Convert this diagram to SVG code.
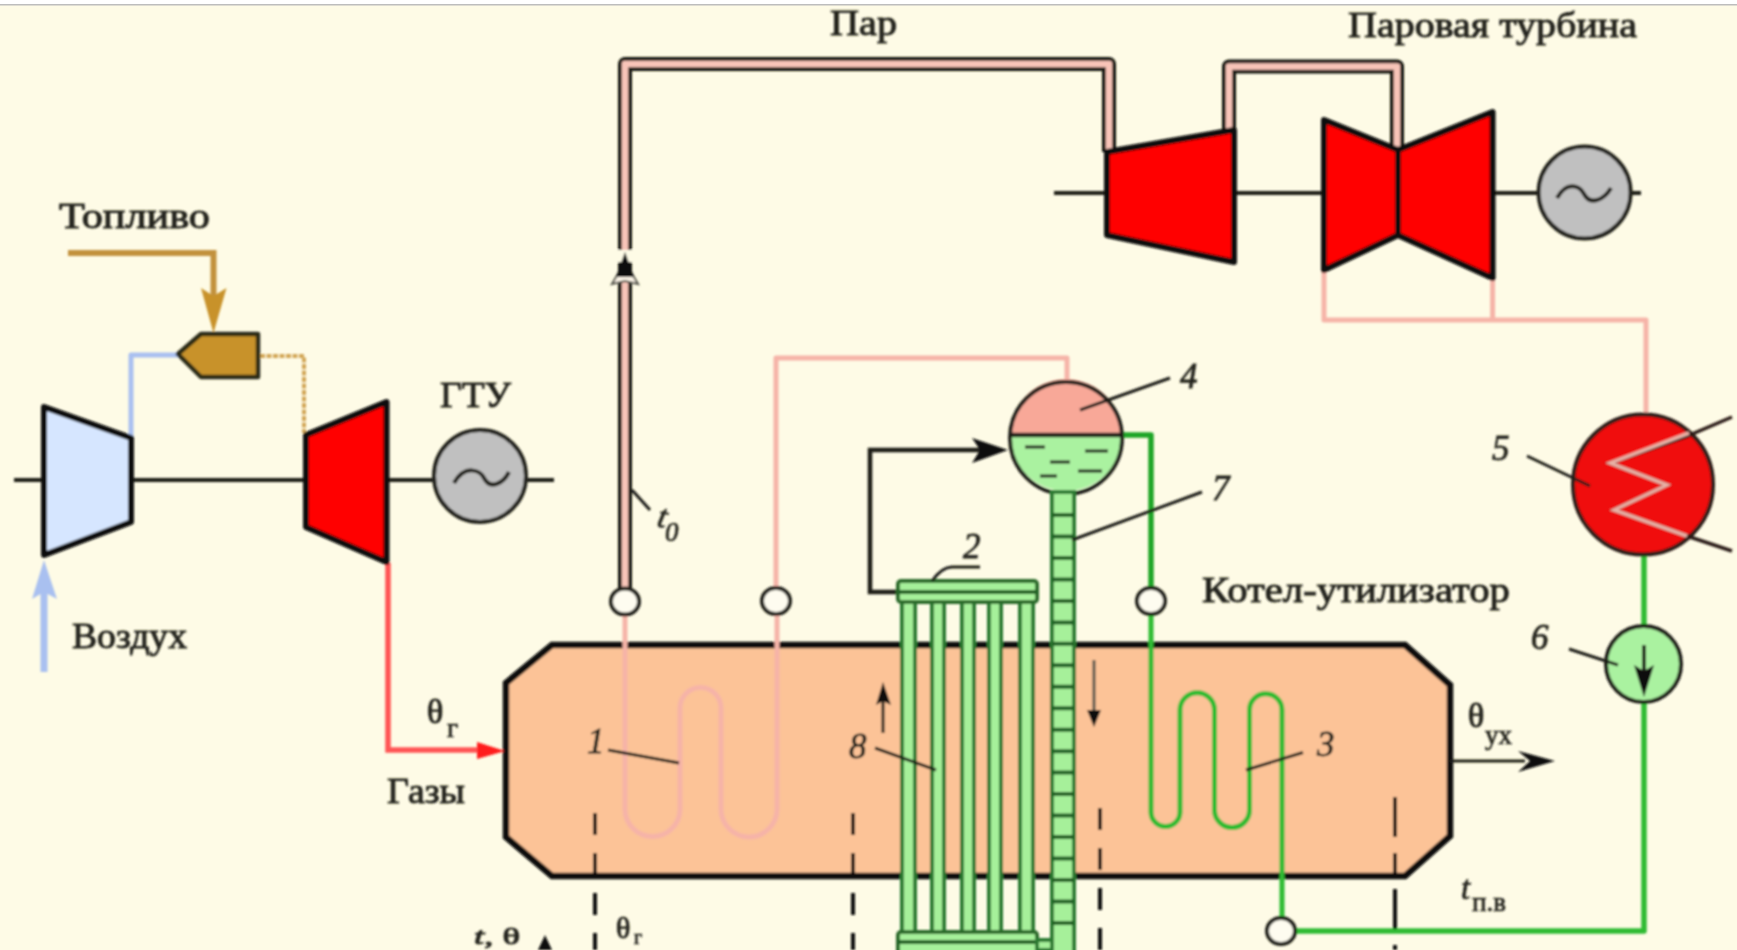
<svg xmlns="http://www.w3.org/2000/svg" width="1737" height="950" viewBox="0 0 1737 950">
<defs>
<filter id="soft" x="-2%" y="-2%" width="104%" height="104%"><feGaussianBlur stdDeviation="0.8"/></filter>
</defs>
<style>
.lbl{font-family:"Liberation Serif","Times New Roman",serif;font-size:35px;fill:#24241c;stroke:#24241c;stroke-width:.9}
.sub{font-family:"Liberation Serif","Times New Roman",serif;font-size:27px;fill:#24241c;stroke:#24241c;stroke-width:.7}
.num{font-family:"Liberation Serif","Times New Roman",serif;font-size:35px;font-style:italic;fill:#24241c;stroke:#24241c;stroke-width:.8}
.ital{font-family:"Liberation Serif","Times New Roman",serif;font-size:33px;font-style:italic;fill:#24241c;stroke:#24241c;stroke-width:.7}
.blk{fill:none;stroke:#1c1c16;stroke-width:4;stroke-linejoin:round}
.thin{fill:none;stroke:#1e1e18;stroke-width:3}
.mach{stroke:#0c0c0c;stroke-width:6;stroke-linejoin:round}
.red{fill:#ff0000}
.gen{fill:#c0c0c0;stroke:#24241c;stroke-width:4}
.wave{fill:none;stroke:#24241c;stroke-width:4}
.pink{fill:none;stroke:#f6b4a8;stroke-width:5;stroke-linejoin:round}
.grn{fill:none;stroke:#2dbb32;stroke-width:5;stroke-linejoin:round}
.tube-o{fill:none;stroke:#15150f;stroke-width:14;stroke-linejoin:round}
.tube-i{fill:none;stroke:#f8c4b8;stroke-width:6.5;stroke-linejoin:round}
.node{fill:#fefcf0;stroke:#24241c;stroke-width:4}
.sect{stroke:#111;stroke-width:4;fill:none}
.gtube{fill:#a6f09a;stroke:#2a7a30;stroke-width:4}
.hdr{fill:#a6f09a;stroke:#2a6a2c;stroke-width:4}
.bar{stroke:#1f5f22;stroke-width:4}
</style>
<rect width="1737" height="950" fill="#fefbe6"/>
<rect width="1737" height="4" fill="#ffffff"/>
<rect y="4" width="1737" height="1.5" fill="#bdbdbd"/>
<g filter="url(#soft)">
<g id="boiler"><path d="M552 645H1405L1450 685V836L1405 876H552L506 837V683Z" fill="#fcc397" stroke="#0c0c0c" stroke-width="6.500" stroke-linejoin="miter"/></g>

<g id="connectors">
<path class="blk" d="M14 480H44M131 480H306M386 480H436M524 480H554"/>
<path class="blk" d="M1054 193H1107M1234 193H1324M1492 193H1539M1630 193H1641"/>
<path d="M68 253H213.500V300" fill="none" stroke="#c2913c" stroke-width="6"/>
<path d="M201 288L213.500 296L226.500 288L213.500 333Z" fill="#c8922a"/>
<path d="M131 438V355H178" fill="none" stroke="#a9c0f0" stroke-width="5" stroke-linejoin="round"/>
<path d="M260 356H304V433" fill="none" stroke="#d2a656" stroke-width="4" stroke-dasharray="5 1.500"/>
<path d="M44 672V590" fill="none" stroke="#a9c0f0" stroke-width="7"/>
<path d="M32 599L44 560L57 599L44 592Z" fill="#a9c0f0"/>
<path d="M388 563V750H482" fill="none" stroke="#ff5555" stroke-width="5.500"/>
<path d="M477 742L505 751L477 759Z" fill="#ff1a1a"/>

<path class="tube-o" d="M625 590V64H1109V152"/>
<path class="tube-i" d="M625 590V64H1109V152"/>
<path class="tube-o" d="M1229 132V66.500H1397V152"/>
<path class="tube-i" d="M1229 132V66.500H1397V152"/>
<path d="M612 284L625 262L638 284L625 281Z" fill="#fdf5e8" stroke="#55554c" stroke-width="2"/>
<rect x="616" y="250" width="18" height="12" fill="#fefbe6"/>
<path d="M625 252L634 277H616Z" fill="#111"/>
<path class="thin" d="M632 490L650 510"/>

<path class="pink" d="M625 614V809A27.500 27.500 0 0 0 680 809V708A20.500 20.500 0 0 1 721 708V809A28 28 0 0 0 777 809V614"/>
<path class="pink" d="M776 588V358H1067V384"/>
<path class="pink" d="M1324 270V320H1646V416M1492.600 278V320"/>

<path class="grn" d="M1282 918V710A16.250 16.250 0 0 0 1249.500 710V810A17.500 17.500 0 0 1 1214.500 810V710A17.250 17.250 0 0 0 1180 710V812A14.500 14.500 0 0 1 1151 812V614"/>
<path d="M1151 588V435H1120" fill="none" stroke="#1fa526" stroke-width="5.500" stroke-linejoin="round"/>
<path d="M1295 931H1644V702M1644 555V626" fill="none" stroke="#2dbb32" stroke-width="5.500" stroke-linejoin="round"/>

<path d="M897 592H870V450H985" fill="none" stroke="#1c1c16" stroke-width="4.500"/>
<path d="M972 438L1008 450L972 463L980 450Z" fill="#111"/>

<path class="thin" d="M1450 761H1525"/>
<path d="M1518 751L1555 761L1518 772L1530 761Z" fill="#111"/>

<path class="thin" d="M883 733V700"/>
<path d="M876 705L883 682L891 705L883 701Z" fill="#111"/>
<path d="M1094 660V712" fill="none" stroke="#55554c" stroke-width="3"/>
<path d="M1087 710L1094 727L1101 710Z" fill="#111"/>
<path d="M538 950L545 935L552 950Z" fill="#111"/>

<path class="sect" d="M595 813V950" stroke-dasharray="22 18"/>
<path class="sect" d="M853 813V950" stroke-dasharray="22 18"/>
<path class="sect" d="M1100 808V950" stroke-dasharray="22 18"/>
<path class="sect" d="M1395 797V950" stroke-dasharray="40 16 24 12"/>
</g>

<g id="compressor"><path class="mach" d="M44 407L131 438V522L44 555Z" fill="#d6e6ff"/></g>
<g id="combustor"><path d="M178 354L201 334H258V377H201Z" fill="#c8922a" stroke="#2a2a18" stroke-width="4.500" stroke-linejoin="round"/></g>
<g id="gas-turbine"><path class="mach red" d="M306 435L386.500 402V562L306 527Z"/></g>
<g id="generator-1"><circle class="gen" cx="480" cy="476" r="46"/><path class="wave" d="M454 483C465 464 480 470 484 478C490 490 503 484 509 472"/></g>

<g id="hp-turbine"><path class="mach red" d="M1107 152L1234 130V262L1107 235Z"/></g>
<g id="lp-turbine"><path class="mach red" d="M1324 120L1398 150V235L1324 270Z"/><path class="mach red" d="M1398 150L1492.600 112V278L1398 235Z"/></g>
<g id="generator-2"><circle class="gen" cx="1584.600" cy="192.500" r="46"/><path class="wave" d="M1557 198C1567 180 1580 186 1584 194C1590 206 1604 200 1611 188"/></g>

<g id="drum">
<path d="M1010 435A56 56 0 0 1 1122 435Z" fill="#f8a898"/>
<path d="M1010 435A56 56 0 0 0 1122 435Z" fill="#aaf2a0"/>
<circle cx="1066" cy="438" r="56" fill="none" stroke="#24241c" stroke-width="4"/>
<path d="M1010 435H1122" stroke="#1e1e18" stroke-width="4.500"/>
<path class="thin" d="M1025 447H1045M1085 451H1108M1050 462H1070M1040 476H1057M1078 471H1102"/>
</g>

<g id="evaporator">
<rect class="gtube" x="902" y="600" width="13" height="334"/>
<rect class="gtube" x="932" y="600" width="12" height="334"/>
<rect class="gtube" x="962" y="600" width="12" height="334"/>
<rect class="gtube" x="989" y="600" width="12" height="334"/>
<rect class="gtube" x="1020" y="600" width="13" height="334"/>
<rect class="hdr" x="898" y="581" width="139" height="21" rx="3"/>
<path class="bar" d="M898 592H1037"/>
<rect class="hdr" x="898" y="932" width="139" height="24" rx="3"/>
<path class="bar" d="M898 942H1037"/>
</g>

<g id="downcomer">
<path class="gtube" d="M1037 940H1052V950H1037Z"/>
<rect class="gtube" x="1052" y="492" width="22" height="470"/>
<path class="bar" d="M1052 515H1074M1052 536.500H1074M1052 558H1074M1052 579.400H1074M1052 600.900H1074M1052 622.400H1074M1052 643.800H1074M1052 665.300H1074M1052 686.800H1074M1052 708.200H1074M1052 729.700H1074M1052 751.200H1074M1052 772.600H1074M1052 794.100H1074M1052 815.600H1074M1052 837H1074M1052 858.500H1074M1052 880H1074M1052 901.400H1074M1052 923H1074"/>
</g>

<g id="condenser">
<ellipse cx="1643" cy="484.500" rx="70" ry="70" fill="#f01010" stroke="#2a1a16" stroke-width="4"/>
<path d="M1732 417L1685 437L1610 463L1667 485L1614 510L1687 536L1732 551" fill="none" stroke="#2a1a16" stroke-width="3.500"/>
<path d="M1689 433L1610 463L1667 485L1614 510L1687 536" fill="none" stroke="#e9b0a4" stroke-width="3.500"/>
</g>
<g id="pump">
<ellipse cx="1643.500" cy="664" rx="37.500" ry="38" fill="#aaf2a0" stroke="#1e1e18" stroke-width="4"/>
<path class="blk" d="M1644 645V680"/>
<path d="M1634 665L1644 671L1654 665L1644 697Z" fill="#111"/>
</g>

<g id="junctions">
<ellipse class="node" cx="625" cy="601.500" rx="14" ry="13"/>
<ellipse class="node" cx="776" cy="601" rx="14" ry="13"/>
<ellipse class="node" cx="1151" cy="601" rx="14" ry="13"/>
<ellipse class="node" cx="1281" cy="931" rx="14" ry="13"/>
</g>

<g id="leaders">
<path class="thin" d="M1080 410L1170 378"/>
<path class="thin" d="M1072 540L1202 492"/>
<path class="thin" d="M932 581Q942 567 952 567H980"/>
<path class="thin" d="M875 748L936 770"/>
<path class="thin" d="M608 750L679 763"/>
<path class="thin" d="M1246 770L1303 752.500"/>
<path class="thin" d="M1527 456L1590 486"/>
<path class="thin" d="M1569 649L1618 665"/>
</g>

<g id="labels">
<text class="lbl" x="59" y="228" textLength="151" lengthAdjust="spacingAndGlyphs">Топливо</text>
<text class="lbl" x="440" y="407" textLength="71" lengthAdjust="spacingAndGlyphs">ГТУ</text>
<text class="lbl" x="72" y="648" textLength="115" lengthAdjust="spacingAndGlyphs">Воздух</text>
<text class="lbl" x="387" y="803" textLength="78" lengthAdjust="spacingAndGlyphs">Газы</text>
<text class="lbl" x="830" y="35" textLength="67" lengthAdjust="spacingAndGlyphs">Пар</text>
<text class="lbl" x="1348" y="37" textLength="289" lengthAdjust="spacingAndGlyphs">Паровая турбина</text>
<text class="lbl" x="1202" y="602" textLength="308" lengthAdjust="spacingAndGlyphs">Котел-утилизатор</text>
<text class="lbl" x="427" y="723" style="font-size:34px">θ</text><text class="sub" x="447" y="737">г</text>
<text class="lbl" x="1468" y="727" style="font-size:34px">θ</text><text class="sub" x="1485" y="744">ух</text>
<text class="lbl" x="616" y="938" style="font-size:30px">θ</text><text class="sub" x="634" y="944" style="font-size:20px">г</text>
<text class="lbl" x="474" y="944" textLength="46" lengthAdjust="spacingAndGlyphs" style="font-size:24px"><tspan font-style="italic">t</tspan>, θ</text>
<text class="ital" x="656" y="526" transform="rotate(12 656 526)">t</text><text class="sub" x="665" y="541" font-style="italic">0</text>
<text class="ital" x="1461" y="899">t</text><text class="sub" x="1472" y="911">п.в</text>
<text class="num" x="587" y="753">1</text>
<text class="num" x="963" y="558">2</text>
<text class="num" x="1317" y="756">3</text>
<text class="num" x="1180" y="388">4</text>
<text class="num" x="1492" y="460">5</text>
<text class="num" x="1531" y="649">6</text>
<text class="num" x="1212" y="500">7</text>
<text class="num" x="849" y="758">8</text>
</g>
</g>
</svg>
